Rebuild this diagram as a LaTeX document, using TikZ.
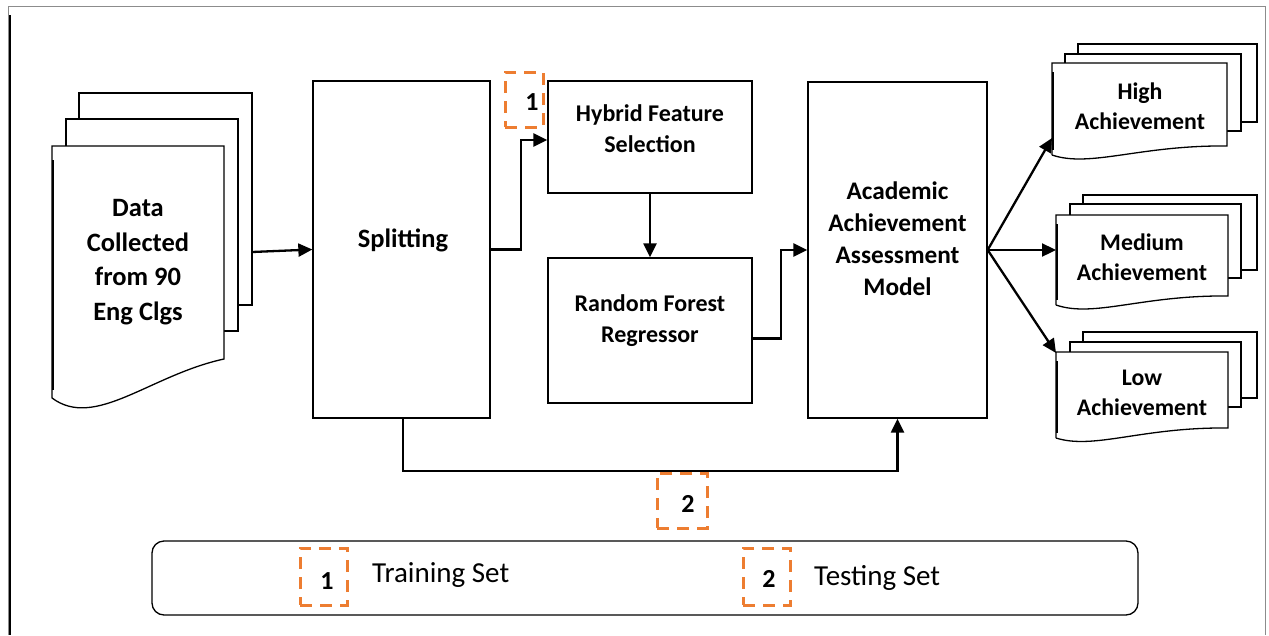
\documentclass[tikz,border=0pt]{standalone}
\usepackage{fontspec}
\setmainfont{Carlito}
\usetikzlibrary{arrows.meta,calc}
\definecolor{accent}{HTML}{ED7D31}
\definecolor{framegray}{HTML}{8C8C8C}
\begin{document}
\begin{tikzpicture}[x=1pt,y=-1pt,
  box/.style={draw=black,line width=1.3pt,fill=white,inner sep=0pt},
  lbl/.style={font=\bfseries\fontsize{24}{31}\selectfont,align=center,inner sep=0pt},
  modellbl/.style={font=\bfseries\fontsize{25.3}{32}\selectfont,align=center,inner sep=0pt},
  biglbl/.style={font=\bfseries\fontsize{26.5}{34.5}\selectfont,align=center,inner sep=0pt},
  doclbl/.style={font=\bfseries\fontsize{23.8}{30}\selectfont,align=center,inner sep=0pt},
  taglbl/.style={font=\bfseries\fontsize{26}{30}\selectfont,inner sep=0pt},
  leglbl/.style={font=\fontsize{29}{32}\selectfont,anchor=west,inner sep=0pt},
  arr/.style={line width=2.3pt,-{Triangle[length=14pt,width=13pt]}},
  tag/.style={draw=accent,line width=3pt,dash pattern=on 12pt off 8pt,inner sep=0pt},
  sheet/.style={draw=black,line width=1.3pt,fill=white},
  edge/.style={line width=2.2pt}]
\useasboundingbox (0,0) rectangle (1269,635);

% page frame
\draw[framegray,line width=1pt] (8,635) -- (8,6) -- (1265,6) -- (1265,635);
\draw[line width=2.5pt] (10,15) -- (10,635);

% input documents
\draw[sheet] (79,93) rectangle (252,305);
\draw[sheet] (66,119) rectangle (238,331);
\draw[sheet] (52,398) -- (52,146) -- (224,146) -- (224,359)
  .. controls (150,375) and (95,430) .. (52,398);
\draw[edge] (53,160) -- (53,390);
\node[biglbl] (data) at (138,262) {Data\\Collected\\from 90\\Eng Clgs};
\coordinate (data-out) at (252,252);

% processing blocks
\node[box,minimum width=177pt,minimum height=337pt] (split) at (401.5,249.5) {};
\node[box,minimum width=204pt,minimum height=112pt] (hybrid) at (650,137) {};
\node[box,minimum width=204pt,minimum height=145pt] (rf) at (650,330.5) {};
\node[box,minimum width=179pt,minimum height=336pt] (model) at (897.5,250) {};
\foreach \n in {split,hybrid,rf,model}{
  \draw[edge] ($(\n.north west)+(1,10)$) -- ($(\n.south west)+(1,-8)$);
}
\node[biglbl] (split-t) at (403,240) {Splitting};
\node[lbl] (hybrid-t) at (650,128.5) {Hybrid Feature\\Selection};
\node[lbl] (rf-t) at (650,320.5) {Random Forest\\Regressor};
\node[modellbl] (model-t) at (897.5,238.5) {Academic\\Achievement\\Assessment\\Model};

% output documents
\draw[sheet] (1078,44) rectangle (1257,122);
\draw[sheet] (1065,54) rectangle (1241,131);
\draw[sheet] (1052,155) -- (1052,63) -- (1227,63) -- (1227,146)
  .. controls (1140,145) and (1090,168) .. (1052,155);
\draw[edge] (1053,72) -- (1053,150);
\node[doclbl] (high) at (1140,106) {High\\Achievement};

\draw[sheet] (1083,195) rectangle (1257,270);
\draw[sheet] (1070,204) rectangle (1241,278);
\draw[sheet] (1056,305) -- (1056,215) -- (1228,215) -- (1228,296)
  .. controls (1142,295) and (1094,318) .. (1056,305);
\draw[edge] (1057,224) -- (1057,300);
\node[doclbl] (medium) at (1142,257) {Medium\\Achievement};

\draw[sheet] (1083,332) rectangle (1257,398);
\draw[sheet] (1070,342) rectangle (1241,407);
\draw[sheet] (1056,438) -- (1056,352) -- (1228,352) -- (1228,428)
  .. controls (1142,427) and (1094,450) .. (1056,438);
\draw[edge] (1057,361) -- (1057,433);
\node[doclbl] (low) at (1142,393) {Low\\Achievement};

\coordinate (high-in) at (1052,138);
\coordinate (medium-in) at (1056,250);
\coordinate (low-in) at (1056,353);

% connectors
\draw[arr] (data-out) -- (split.west);
\draw[arr] (split.east) -- ++(30,0) |- ($(hybrid.west)+(0,3)$);
\draw[arr] (hybrid.south) -- (rf.north);
\draw[arr] ($(rf.east)+(0,8)$) -- ++(28,0) |- (model.west);
\draw[arr] ($(split.south)+(1.5,0)$) -- ++(0,52) -| (model.south);
\draw[arr] (model.east) -- (high-in);
\draw[arr] (model.east) -- (medium-in);
\draw[arr] (model.east) -- (low-in);

% set tags
\node[tag,minimum width=38pt,minimum height=55pt] (tag1) at (524,99.5) {};
\node[taglbl] (tag1-t) at (532,102) {1};
\node[tag,minimum width=50pt,minimum height=55pt] (tag2) at (682,500.5) {};
\node[taglbl] (tag2-t) at (688,504) {2};

% legend
\node[draw,line width=1.3pt,rounded corners=12pt,minimum width=986pt,minimum height=74pt] (legend) at (645,578) {};
\node[tag,minimum width=47pt,minimum height=57pt] (leg1) at (323.5,576.5) {};
\node[taglbl] (leg1-t) at (327,581) {1};
\node[leglbl] (leg1-l) at (372,575) {Training Set};
\node[tag,minimum width=47pt,minimum height=57pt] (leg2) at (766.5,576.5) {};
\node[taglbl] (leg2-t) at (769,579) {2};
\node[leglbl] (leg2-l) at (814,578) {Testing Set};
\end{tikzpicture}
\end{document}
